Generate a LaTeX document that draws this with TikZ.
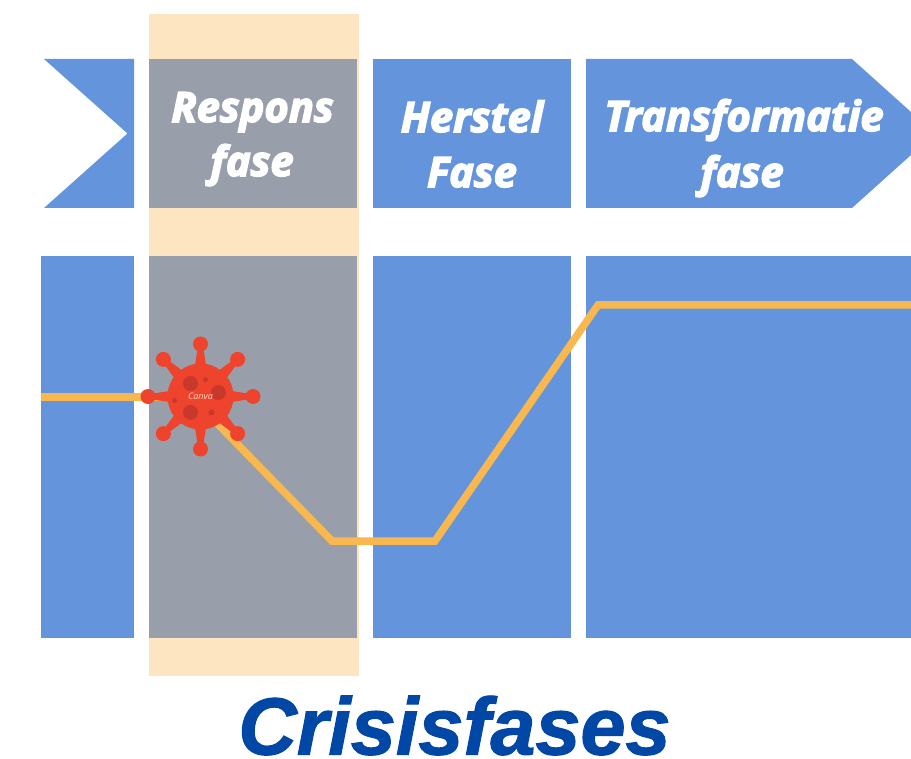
\documentclass[tikz,border=0pt]{standalone}
\usepackage{fontspec}
\setmainfont{Open Sans}
\newfontfamily\hd{Open Sans}[BoldItalicFeatures={FakeBold=3.6}]
\newfontfamily\ttl{Liberation Sans}[BoldItalicFeatures={FakeBold=1.4}]
\definecolor{fblue}{HTML}{6495DC}
\definecolor{fgrey}{HTML}{989FAA}
\definecolor{fbeige}{HTML}{FCE5C0}
\definecolor{fline}{HTML}{F9B84F}
\definecolor{fred}{HTML}{EE432C}
\definecolor{fdark}{HTML}{C8392C}
\definecolor{ftitle}{HTML}{0047A6}
\tikzset{
  x=1pt,y=-1pt,
  phase/.style={text=white,font=\hd\bfseries\itshape\fontsize{41.7}{45}\selectfont,inner sep=0pt,anchor=base},
  curve/.style={draw=fline,line width=7.5pt,line join=miter},
  knob/.style={fill=fred},
  spot/.style={fill=fdark}
}
\begin{document}
\begin{tikzpicture}
\useasboundingbox (0,0) rectangle (911,759);
\fill[white] (0,0) rectangle (911,759);
% highlight band
\fill[fbeige] (149,14) rectangle (358.5,676);
% top row
\fill[fblue] (44,59) -- (134,59) -- (134,208) -- (44,208) -- (127.5,133.5) -- cycle;
\fill[fgrey] (149,59) rectangle (357,208);
\fill[fblue] (373,59) rectangle (571,208);
\fill[fblue] (586,59) -- (852,59) -- (911,112) -- (911,155) -- (852,208) -- (586,208) -- cycle;
% lower row
\fill[fblue] (41,256) rectangle (134,638);
\fill[fgrey] (149,256) rectangle (357,638);
\fill[fblue] (373,256) rectangle (571,638);
\fill[fblue] (586,256) rectangle (911,638);
% labels
\node[phase] (r1) at (252.5,122) {Respons};
\node[phase] (r2) at (252,176) {fase};
\node[phase] (h1) at (472,132) {Herstel};
\node[phase] (h2) at (472,187) {Fase};
\node[phase] (t1) at (744,131) {Transformatie};
\node[phase] (t2) at (742,187) {fase};
% curve
\coordinate (a0) at (41,397);
\coordinate (a1) at (200,397);
\coordinate (b0) at (205,411);
\coordinate (b1) at (332,541);
\coordinate (b2) at (435,541);
\coordinate (b3) at (598,305);
\coordinate (b4) at (911,305);
\draw[curve] (a0) -- (a1);
\draw[curve] (b0) -- (b1) -- (b2) -- (b3) -- (b4);
% virus
\begin{scope}[shift={(200.5,396.5)}]
  \foreach \a in {0,45,...,315} {
    \fill[knob] (\a:52.5) circle (7.5);
    \fill[fred] ({\a-11}:30) -- ({\a-3.5}:48) -- ({\a+3.5}:48) -- ({\a+11}:30) -- cycle;
  }
  \fill[fred] (0,0) circle (33);
  \fill[spot] (-10,-13) circle (7.5);
  \fill[spot] (18,-4) circle (7.5);
  \fill[spot] (-10,16) circle (7.5);
  \fill[spot] (5,-17) circle (2.5);
  \fill[spot] (-26,4) circle (2.5);
  \fill[spot] (11,16) circle (3);
  \node[text=fbeige!70!pink,font=\itshape\fontsize{9}{10}\selectfont,inner sep=0pt] (w) at (0,0) {Canva};
\end{scope}
% title
\node[text=ftitle,font=\ttl\bfseries\itshape\fontsize{81}{87}\selectfont,inner sep=0pt,anchor=base] (title) at (454.5,754.5) {Crisisfases};
\end{tikzpicture}
\end{document}
